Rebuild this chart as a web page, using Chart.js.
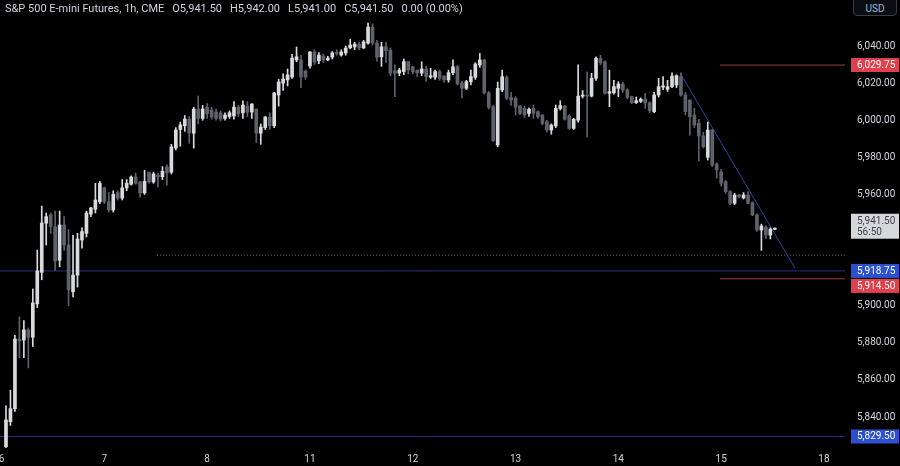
<!DOCTYPE html>
<html>
<head>
<meta charset="utf-8">
<script src="https://cdn.jsdelivr.net/npm/chart.js@4.4.1/dist/chart.umd.min.js"></script>
<style>
  html, body { margin: 0; padding: 0; background: #000; }
  #wrap { position: relative; width: 900px; height: 466px; overflow: hidden; }
  #header { position: absolute; left: 5px; top: 2px; font: 11px Roboto, sans-serif; color: #d1d4dc; white-space: pre; }
  #header span { margin-left: 8px; }
  #usd { position: absolute; left: 853px; top: -4px; width: 44px; height: 20px; box-sizing: border-box;
         border: 1px solid #3a3e48; border-radius: 4px; background: #0b0d12; color: #b2b5be;
         font: 10px Roboto, sans-serif; line-height: 24px; text-align: center; }
</style>
</head>
<body>
<div id="wrap">
  <canvas id="chart" width="900" height="466"></canvas>
  <div id="header">S&amp;P 500 E-mini Futures, 1h, CME<span>O5,941.50</span><span>H5,942.00</span><span>L5,941.00</span><span>C5,941.50</span><span>0.00 (0.00%)</span></div>
  <div id="usd">USD</div>
</div>
<script>
// Hourly candles, bar 1 is the first one after the "6" session start
const opens = [
  5824, 5837.5, 5844.5, 5882, 5881.5, 5887, 5883, 5901, 5918, 5944.5,
  5949, 5942.5, 5924.5, 5943.5, 5932.7, 5907.5, 5916.5, 5935.4, 5939, 5949.4,
  5952, 5956, 5963.5, 5956, 5951.6, 5961, 5958, 5963.5, 5965.5, 5969.5,
  5966.7, 5960.8, 5972, 5966.7, 5970.5, 5969.5, 5974.8, 5972, 5985, 5995,
  5997, 6000.6, 5993, 6006, 6001, 6007, 6005.5, 6004.4, 6004, 6001,
  6002, 6002.3, 6007, 6004, 6007.6, 6004.4, 6006, 5993, 5996, 6001.7,
  5997, 6013.6, 6020, 6021.7, 6023.3, 6032.5, 6032.5, 6026.5, 6029.2, 6036.8,
  6032, 6034.6, 6032.5, 6034, 6036.5, 6035.1, 6036.2, 6039, 6039.5, 6041,
  6039, 6041.6, 6050.2, 6041.6, 6034.2, 6039.6, 6037.8, 6026.5, 6025.4, 6026.2,
  6031.6, 6028.8, 6027, 6025.4, 6027.6, 6023.2, 6023.2, 6026.2, 6023.8, 6021.7,
  6025.6, 6028.8, 6020, 6017.2, 6020.8, 6023.1, 6029.8, 6032.5, 6014.8, 6007.3,
  5986.6, 6016.3, 6023.2, 6012.3, 6011.8, 6007.6, 6006.4, 6003.7, 6006.4, 6004.6,
  6002.8, 5999.2, 5994.7, 5996.9, 6006.3, 6007.6, 6002.3, 5995.6, 6000, 6013,
  6013.5, 6013, 6022.6, 6033.3, 6031.5, 6014.5, 6014.8, 6017.2, 6019.5, 6016.3,
  6012.7, 6009.5, 6010.2, 6011.4, 6009.4, 6004.6, 6013.6, 6017.8, 6016.7, 6018.1,
  6019, 6023.5, 6013.6, 6010.9, 6002.8, 5998.3, 5991.5, 5980, 5994.7, 5976.4,
  5972.2, 5966.8, 5961.5, 5955.2, 5959.7, 5958.1, 5959.7, 5955.5, 5948.9, 5940.8,
  5942.3, 5938.1, 5941.5
];
const highs = [
  5846, 5854.5, 5884, 5894, 5892, 5888, 5909, 5930, 5953.7, 5950,
  5950, 5951, 5951, 5948, 5941, 5938, 5939, 5942, 5951, 5953,
  5966, 5967, 5964, 5961, 5962, 5962, 5968, 5968, 5970, 5971.5,
  5967, 5973, 5972, 5972, 5971.5, 5975, 5976, 5987, 5996, 5999,
  6002.5, 6002, 6007, 6013, 6008, 6009, 6007, 6006, 6005, 6004,
  6005, 6010, 6008, 6010.5, 6010, 6009, 6006, 5998, 6002, 6004,
  6015, 6022, 6025, 6027.6, 6035.5, 6039.5, 6035, 6027, 6037, 6038,
  6036.5, 6035.5, 6034.5, 6037, 6038, 6038, 6040, 6043.7, 6042, 6042,
  6043, 6052.4, 6052, 6043, 6042, 6042, 6039, 6029.8, 6028, 6033,
  6031.6, 6029, 6027, 6031.5, 6029, 6028, 6027, 6027, 6024, 6027,
  6032.5, 6029.5, 6021, 6021.5, 6027, 6031, 6036, 6033, 6015.5, 6008,
  6020.6, 6027, 6024, 6015, 6012.7, 6008, 6007.5, 6006.5, 6008.2, 6005,
  6003, 6000, 5998, 6008.2, 6010.5, 6008, 6003, 6001, 6029.8, 6016,
  6026, 6025.3, 6034.2, 6035, 6032, 6027, 6021.5, 6020.8, 6020.5, 6017,
  6013, 6012.5, 6012, 6014.5, 6010, 6015, 6022.6, 6023.5, 6021.5, 6025.5,
  6024.5, 6025.6, 6015, 6011, 6006.4, 6000.5, 5993.5, 5999, 5995, 5977,
  5973.5, 5967.5, 5962, 5960.5, 5960, 5961, 5961.5, 5956, 5949.5, 5944,
  5943, 5942, 5942
];
const lows = [
  5820, 5835.5, 5843, 5872, 5872, 5866.5, 5878, 5899, 5914, 5932.7,
  5939, 5919, 5921, 5930, 5900, 5904.7, 5910, 5931, 5937, 5948,
  5950, 5955, 5955, 5950.5, 5950.5, 5957, 5957, 5962, 5965, 5965.5,
  5958.5, 5960, 5966, 5966, 5964, 5968, 5965, 5971, 5984, 5986,
  5994, 5987.5, 5985, 5998, 6000, 6001, 6000.5, 6000, 5999.5, 6000,
  6001, 6000.5, 6002, 6001, 6002, 6001, 5988, 5987, 5995, 5995,
  5996, 6007.6, 6016, 6018.5, 6022.5, 6031.5, 6017.5, 6022, 6028, 6030,
  6030.5, 6031, 6032, 6033, 6035, 6034.5, 6035, 6038.4, 6038, 6038,
  6038.5, 6041, 6040.5, 6031.8, 6029, 6031, 6024, 6012.7, 6024, 6024.5,
  6025, 6025, 6023.5, 6024, 6021, 6022.5, 6022, 6021.5, 6020.5, 6020.5,
  6024.5, 6019, 6012, 6016.5, 6019, 6022, 6028.5, 6014, 6006, 5988.5,
  5985.7, 6015.4, 6011, 6008, 6002.8, 6003, 6001.5, 6002, 6001, 6001,
  5997.5, 5993.6, 5992.5, 5996, 6005.5, 6000, 5995, 5995, 5999, 6012,
  5991, 6012.5, 6021.5, 6030, 6014, 6007.3, 6014, 6012.7, 6015, 6011.5,
  6009, 6009, 6009.5, 6006.4, 6004, 6004, 6012.5, 6016.5, 6015.5, 6017.5,
  6017.5, 6013, 6003, 5992, 5996, 5978, 5985, 5978.5, 5975, 5968.7,
  5964.5, 5960.5, 5954.5, 5954.5, 5958, 5957.5, 5955, 5948.5, 5940, 5929.8,
  5936.3, 5936, 5941
];
const closes = [
  5838.5, 5844.5, 5882, 5881, 5887, 5883, 5901.5, 5918.7, 5944.6, 5948,
  5942.6, 5924, 5943.5, 5932.7, 5908.5, 5916.5, 5936, 5940, 5950, 5952.7,
  5957, 5966, 5956, 5951.6, 5960, 5958, 5963.5, 5966, 5969.4, 5966,
  5960.8, 5967, 5966.7, 5971, 5969.5, 5972.5, 5971.5, 5985.6, 5994.7, 5997.5,
  6000.6, 5993.1, 6006, 6001, 6006, 6003.5, 6001.7, 6001, 6000.6, 6002.8,
  6004, 6007, 6003.5, 6008.2, 6004.4, 6008.7, 5993, 5996.3, 6001.7, 5997,
  6014.7, 6020.6, 6022.2, 6024.4, 6033.5, 6034.2, 6023.3, 6023.3, 6036.8, 6031.4,
  6035.1, 6032.5, 6033.5, 6036.3, 6036, 6036.8, 6038.9, 6040.5, 6041, 6039,
  6042.2, 6050.2, 6041.6, 6034, 6039.6, 6037.5, 6025.3, 6025.4, 6027, 6031.6,
  6027.1, 6026.1, 6025.5, 6027.6, 6023.5, 6024, 6026.2, 6022.6, 6021.7, 6025.6,
  6028.8, 6019.5, 6017.2, 6020.8, 6023.5, 6030.3, 6032.5, 6014.8, 6007, 5989,
  6017.2, 6023.5, 6011.8, 6010.9, 6007, 6003.7, 6002.8, 6005.9, 6003.7, 6001.9,
  5998.3, 5994.7, 5997.4, 6006.4, 6007.9, 6000.5, 5995.6, 6000.5, 6013, 6013.5,
  6013, 6022.6, 6033.3, 6031, 6014.5, 6015.4, 6018.1, 6019.5, 6016.3, 6012.3,
  6009.5, 6010.5, 6011.3, 6009.3, 6005.1, 6013.6, 6018.1, 6018.5, 6018.1, 6023.8,
  6024, 6013.6, 6004.6, 6001.9, 5997.4, 5991.5, 5985.7, 5994.7, 5975.8, 5973.2,
  5966, 5961.5, 5955.2, 5959.7, 5958.8, 5959.7, 5955.2, 5948.9, 5940.8, 5943,
  5938.1, 5941.3, 5941.5
];

// Session start bars on the time axis and their day labels
const dayBars = [0, 23, 46, 69, 92, 115, 138, 161, 184];
const dayLabels = ["6", "7", "8", "11", "12", "13", "14", "15", "18"];

// Price axis
const priceTicks = [5840, 5860, 5880, 5900, 5960, 5980, 6000, 6020, 6040];
const lastPrice = 5941.5;
const countdown = "56:50";

// Drawn levels
const blueLevels = [5918.75, 5829.5];
const redLevels = [6029.75, 5914.5];
const dottedLevel = 5927.25;
const trendBars = [151.8, 177.5];
const trendPrices = [6025.5, 5920.3];

const upColor = "#d9dadd";
const downColor = "#5f626c";
const blueLine = "#2b2f86";
const redLine = "#9e3a3c";

const wickData = [], bodyData = [], candleColors = [];
for (let i = 0; i < opens.length; i++) {
	const o = opens[i], c = closes[i];
	let lo = Math.min(o, c), hi = Math.max(o, c);
	if (hi - lo < 0.6) { const m = (hi + lo) / 2; lo = m - 0.3; hi = m + 0.3; }
	wickData.push({ x: i + 1, y: [lows[i], highs[i]] });
	bodyData.push({ x: i + 1, y: [lo, hi] });
	candleColors.push(c >= o ? upColor : downColor);
}

const lineSet = function(points, color, dash) {
	return {
		type: "line", data: points, borderColor: color, borderWidth: 1,
		borderDash: dash || [], pointRadius: 0, fill: false, order: 5
	};
};

const datasets = [
	{ data: wickData, backgroundColor: candleColors, barThickness: 1, grouped: false, order: 2 },
	{ data: bodyData, backgroundColor: candleColors, barThickness: 3, grouped: false, order: 1 },
	lineSet([{ x: trendBars[0], y: trendPrices[0] }, { x: trendBars[1], y: trendPrices[1] }], "#3a3ea6"),
	lineSet([{ x: 34.8, y: dottedLevel }, { x: 195, y: dottedLevel }], "#6d7079", [1, 2])
];
blueLevels.forEach(v => datasets.push(lineSet([{ x: -5, y: v }, { x: 195, y: v }], blueLine)));
redLevels.forEach(v => datasets.push(lineSet([{ x: 160.7, y: v }, { x: 195, y: v }], redLine)));

// Coloured price boxes on the right axis
const axisBoxes = {
	id: "axisBoxes",
	afterDraw(chart) {
		const ctx = chart.ctx, y = chart.scales.y, left = chart.chartArea.right + 6;
		ctx.save();
		ctx.font = "10px Roboto, sans-serif";
		ctx.textBaseline = "middle";
		const boxes = [
			{ v: redLevels[0], bg: "#e0404c" },
			{ v: blueLevels[0], bg: "#2b50d0" },
			{ v: redLevels[1], bg: "#e0404c" },
			{ v: blueLevels[1], bg: "#2b50d0" }
		].map(b => ({ ...b, py: y.getPixelForValue(b.v) }));
		let prevBottom = -Infinity;
		boxes.sort((a, b) => a.py - b.py).forEach(b => {
			let top = Math.max(b.py - 7, prevBottom + 1);
			ctx.fillStyle = b.bg;
			ctx.fillRect(left, top, 900 - left - 1, 14);
			ctx.fillStyle = "#ffffff";
			ctx.fillText(b.v.toLocaleString("en-US", { minimumFractionDigits: 2 }), left + 6, top + 7.5);
			prevBottom = top + 14;
		});
		// last price with bar countdown
		const py = y.getPixelForValue(lastPrice);
		ctx.fillStyle = "#d6d7db";
		ctx.fillRect(left, py - 15, 900 - left - 1, 25);
		ctx.fillStyle = "#3b3e47";
		ctx.fillText(lastPrice.toLocaleString("en-US", { minimumFractionDigits: 2 }), left + 6, py - 7);
		ctx.fillText(countdown, left + 6, py + 4);
		ctx.restore();
	}
};

new Chart(document.getElementById("chart"), {
	type: "bar",
	data: { datasets: datasets },
	plugins: [axisBoxes],
	options: {
		responsive: false,
		animation: false,
		layout: { padding: 0 },
		plugins: { legend: { display: false }, tooltip: { enabled: false } },
		scales: {
			x: {
				type: "linear", min: -0.34, max: 188.7, offset: false,
				grid: { display: false, drawTicks: false, offset: false }, border: { display: false },
				afterBuildTicks: s => { s.ticks = dayBars.map(v => ({ value: v })); },
				afterFit: s => { s.height = 18; s.paddingLeft = 0; s.paddingRight = 0; },
				ticks: {
					autoSkip: false, maxRotation: 0, padding: 5, color: "#d1d4dc",
					font: { family: "Roboto", size: 10 },
					callback: v => dayLabels[dayBars.indexOf(v)]
				}
			},
			y: {
				type: "linear", position: "right", min: 5823.3, max: 6064.8,
				grid: { display: false, drawTicks: false }, border: { display: false },
				afterBuildTicks: s => { s.ticks = priceTicks.map(v => ({ value: v })); },
				afterFit: s => { s.width = 55; s.paddingTop = 0; s.paddingBottom = 0; },
				ticks: {
					padding: 12, color: "#d1d4dc",
					font: { family: "Roboto", size: 10 },
					callback: v => v.toLocaleString("en-US", { minimumFractionDigits: 2 })
				}
			}
		}
	}
});
</script>
</body>
</html>
